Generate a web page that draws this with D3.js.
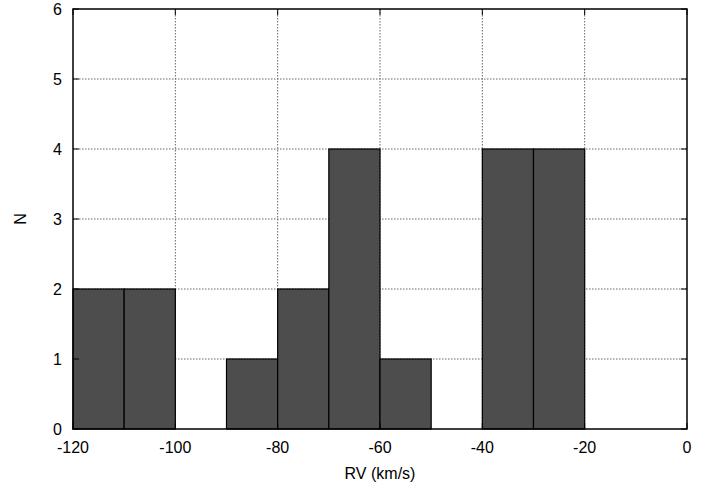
<!DOCTYPE html>
<html>
<head>
<meta charset="utf-8">
<script src="https://cdn.jsdelivr.net/npm/d3@7"></script>
<style>
  body { margin: 0; background: #fff; }
  text { font-family: "Liberation Sans", Arial, sans-serif; font-size: 16px; fill: #000; }
</style>
</head>
<body>
<script>
// bin starts (km/s), bin width 10
let binStarts = [-120, -110, -100, -90, -80, -70, -60, -50, -40, -30, -20, -10];
let counts    = [2, 2, 0, 1, 2, 4, 1, 0, 4, 4, 0, 0];
let xTicks = [-120, -100, -80, -60, -40, -20, 0];
let yTicks = [0, 1, 2, 3, 4, 5, 6];

var W = 716, H = 488;
var pLeft = 73, pRight = 687, pTop = 9, pBottom = 429;

var svg = d3.select("body").append("svg").attr("width", W).attr("height", H);

var x = d3.scaleLinear().domain([-120, 0]).range([pLeft, pRight]);
var y = d3.scaleLinear().domain([0, 6]).range([pBottom, pTop]);

// grid
svg.selectAll(".gx")
  .data(xTicks.slice(1, -1))
  .enter().append("line")
  .attr("x1", d => x(d)).attr("x2", d => x(d))
  .attr("y1", pTop).attr("y2", pBottom)
  .attr("stroke", "#666").attr("stroke-width", 1).attr("stroke-dasharray", "1.5,1.5");
svg.selectAll(".gy")
  .data(yTicks.slice(1, -1))
  .enter().append("line")
  .attr("x1", pLeft).attr("x2", pRight)
  .attr("y1", d => y(d)).attr("y2", d => y(d))
  .attr("stroke", "#666").attr("stroke-width", 1).attr("stroke-dasharray", "1.5,1.5");

// bars
var bins = binStarts.map(function(b, i) { return {x0: b, n: counts[i]}; }).filter(d => d.n > 0);
svg.selectAll("rect.bar")
  .data(bins)
  .enter().append("rect")
  .attr("class", "bar")
  .attr("x", d => x(d.x0))
  .attr("width", d => x(d.x0 + 10) - x(d.x0))
  .attr("y", d => y(d.n))
  .attr("height", d => y(0) - y(d.n))
  .attr("fill", "#4d4d4d")
  .attr("stroke", "#000")
  .attr("stroke-width", 1.2);

// frame
svg.append("rect")
  .attr("x", pLeft).attr("y", pTop)
  .attr("width", pRight - pLeft).attr("height", pBottom - pTop)
  .attr("fill", "none").attr("stroke", "#000").attr("stroke-width", 1.5);

// inward ticks (gnuplot style, mirrored)
var tl = 6;
xTicks.forEach(function(t) {
  svg.append("line").attr("x1", x(t)).attr("x2", x(t)).attr("y1", pBottom).attr("y2", pBottom - tl).attr("stroke", "#000");
  svg.append("line").attr("x1", x(t)).attr("x2", x(t)).attr("y1", pTop).attr("y2", pTop + tl).attr("stroke", "#000");
});
yTicks.forEach(function(t) {
  svg.append("line").attr("x1", pLeft).attr("x2", pLeft + tl).attr("y1", y(t)).attr("y2", y(t)).attr("stroke", "#000");
  svg.append("line").attr("x1", pRight).attr("x2", pRight - tl).attr("y1", y(t)).attr("y2", y(t)).attr("stroke", "#000");
});

// tick labels
svg.selectAll(".xl")
  .data(xTicks)
  .enter().append("text")
  .attr("x", d => x(d)).attr("y", 453)
  .attr("text-anchor", "middle")
  .text(d => d);
svg.selectAll(".yl")
  .data(yTicks)
  .enter().append("text")
  .attr("x", pLeft - 11).attr("y", d => y(d) + 6)
  .attr("text-anchor", "end")
  .text(d => d);

// axis titles
svg.append("text")
  .attr("x", 380).attr("y", 479)
  .attr("text-anchor", "middle")
  .text("RV (km/s)");
svg.append("text")
  .attr("transform", "translate(" + 26 + "," + 219 + ") rotate(-90)")
  .attr("text-anchor", "middle")
  .text("N");
</script>
</body>
</html>
